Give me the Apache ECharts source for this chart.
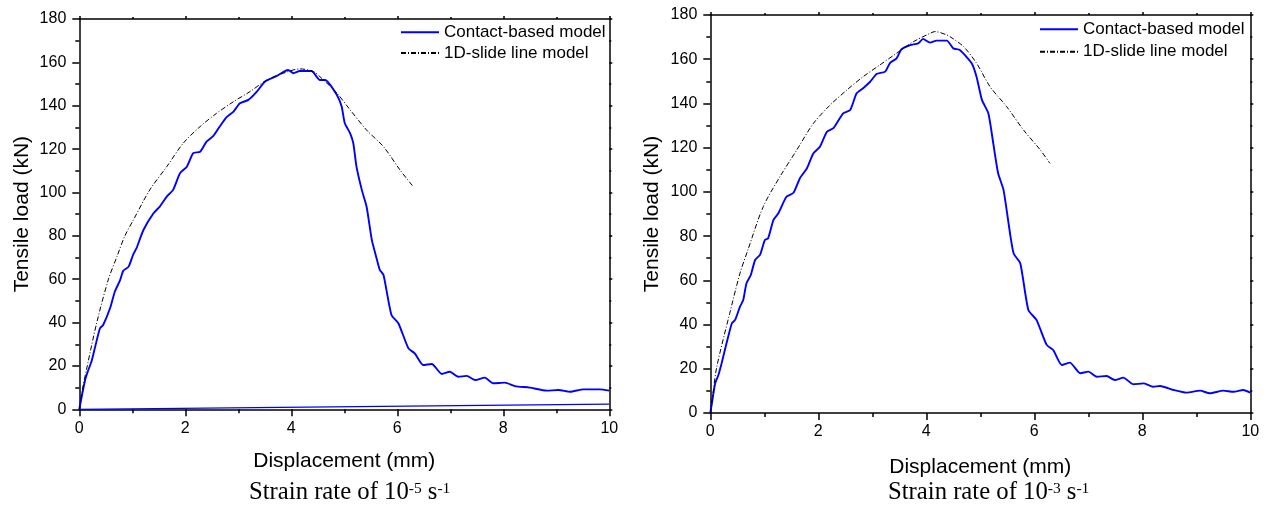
<!DOCTYPE html>
<html>
<head>
<meta charset="utf-8">
<script src="https://cdn.jsdelivr.net/npm/echarts@6/dist/echarts.min.js"></script>
<style>
html,body{margin:0;padding:0;background:#fff;}
#c{width:1273px;height:508px;}
</style>
</head>
<body>
<div id="c"></div>
<script>
// ---- data (displacement mm, tensile load kN) ----
const xTicks = [0, 2, 4, 6, 8, 10];
const yTicks = [0, 20, 40, 60, 80, 100, 120, 140, 160, 180];
const seriesNames = ['Contact-based model', '1D-slide line model'];
const xTitle = 'Displacement (mm)';
const yTitle = 'Tensile load (kN)';
const captionLeft = ['Strain rate of 10', '-5', ' s', '-1'];
const captionRight = ['Strain rate of 10', '-3', ' s', '-1'];

// Strain rate 1e-5
const leftContact = [[0,0],[0.045,5.8],[0.11,13.5],[0.17,18.1],[0.23,22.0],[0.30,28.9],[0.39,37.4],[0.45,38.9],[0.58,46.6],[0.67,54.2],[0.77,59.6],[0.83,63.9],[0.93,65.8],[1.02,71.6],[1.08,74.3],[1.21,82.7],[1.40,90.4],[1.52,93.5],[1.65,98.1],[1.77,101.2],[1.90,108.9],[2.03,111.9],[2.15,118.1],[2.28,118.8],[2.40,123.4],[2.53,126.1],[2.65,130.4],[2.78,134.7],[2.91,137.3],[3.03,141.1],[3.19,142.7],[3.35,146.5],[3.50,151.1],[3.72,153.7],[3.94,156.5],[4.04,155.0],[4.16,156.0],[4.38,156.0],[4.54,151.9],[4.64,151.9],[4.86,145.0],[4.95,139.6],[5.01,131.9],[5.11,127.3],[5.17,122.7],[5.23,111.9],[5.33,101.2],[5.42,93.5],[5.52,78.0],[5.61,69.6],[5.67,64.3],[5.74,61.9],[5.89,43.5],[6.02,39.7],[6.21,28.1],[6.33,25.8],[6.49,20.4],[6.65,20.9],[6.84,16.3],[6.99,17.3],[7.15,15.0],[7.31,15.4],[7.47,13.5],[7.65,14.6],[7.81,12.0],[8.03,12.3],[8.22,10.7],[8.50,10.0],[8.82,8.6],[9.04,8.9],[9.26,8.1],[9.51,9.2],[9.82,9.2],[10.0,8.6]];
const leftSlide = [[0,0],[0.05,8],[0.15,20],[0.33,40],[0.55,60],[0.71,70.4],[0.86,80],[1.02,87.3],[1.33,101.2],[1.65,111.9],[1.96,122.7],[2.28,130.4],[2.59,136.5],[2.91,141.9],[3.22,146.5],[3.54,151.9],[3.85,155.0],[4.16,157.0],[4.42,155.7],[4.54,153.4],[4.86,145.8],[5.11,138.1],[5.42,128.8],[5.74,121.1],[6.05,110.4],[6.30,102.7]];
const leftBaseline = [[0,0],[10,2.4]];

// Strain rate 1e-3
const rightContact = [[0,0],[0.03,4.4],[0.09,13.4],[0.15,17.2],[0.21,22.5],[0.30,31.5],[0.40,40.6],[0.46,42.1],[0.55,48.1],[0.61,51.1],[0.67,58.7],[0.75,62.4],[0.83,69.2],[0.92,71.5],[1.01,78.2],[1.07,79.0],[1.17,87.3],[1.26,90.3],[1.41,97.8],[1.54,99.6],[1.66,106.2],[1.79,110.7],[1.91,117.5],[2.03,120.4],[2.16,127.2],[2.28,128.8],[2.46,135.5],[2.59,137.0],[2.71,144.6],[2.83,146.9],[2.96,149.8],[3.08,153.3],[3.24,154.4],[3.33,158.4],[3.45,160.4],[3.54,164.5],[3.70,166.4],[3.85,167.2],[3.94,169.2],[4.07,167.5],[4.19,168.4],[4.38,168.4],[4.50,164.9],[4.62,164.2],[4.84,158.2],[4.93,152.1],[5.03,141.6],[5.15,135.5],[5.24,122.0],[5.33,108.4],[5.43,100.9],[5.55,81.3],[5.62,72.0],[5.74,67.7],[5.89,46.6],[6.04,42.1],[6.23,30.8],[6.35,28.5],[6.51,21.7],[6.66,22.8],[6.85,18.0],[7.00,18.7],[7.16,16.4],[7.34,16.7],[7.49,14.9],[7.65,16.0],[7.83,13.0],[8.03,13.4],[8.20,11.9],[8.33,12.2],[8.58,10.4],[8.82,9.2],[9.07,10.1],[9.25,8.9],[9.50,10.1],[9.69,9.6],[9.87,10.4],[10.0,9.2]];
const rightSlide = [[0,0],[0.05,9],[0.12,20.9],[0.36,45.1],[0.55,63.2],[0.70,74.0],[0.98,93.3],[1.29,106.9],[1.60,118.9],[1.91,131.0],[2.22,139.3],[2.53,146.1],[2.83,152.1],[3.14,157.4],[3.45,162.7],[3.76,167.9],[4.07,171.7],[4.16,172.5],[4.38,171.0],[4.44,170.2],[4.69,165.7],[4.93,158.2],[5.18,147.6],[5.49,138.5],[5.80,128.0],[6.11,119.0],[6.29,112.9]];

// ---- styles ----
const SANS = '"Liberation Sans", Arial, sans-serif';
const SERIF = '"Liberation Serif", "Times New Roman", serif';
const BLUE = '#0000ff';
const DASHDOT = [5, 2, 1, 2];
const axisLineStyle = { color: '#000', width: 1.5 };

function xAxisPair(gridIndex, nameGap) {
  const base = {
    type: 'value', gridIndex: gridIndex,
    min: xTicks[0], max: xTicks[xTicks.length - 1], interval: xTicks[1] - xTicks[0],
    splitLine: { show: false },
    axisLine: { show: true, onZero: false, lineStyle: axisLineStyle }
  };
  return [
    Object.assign({}, base, {
      position: 'bottom',
      name: xTitle, nameLocation: 'middle', nameGap: nameGap,
      nameTextStyle: { fontFamily: SANS, fontSize: 21, color: '#000' },
      axisTick: { show: true, inside: false, length: 7, lineStyle: { color: '#000', width: 1.5 } },
      minorTick: { show: true, splitNumber: 2, length: 4, lineStyle: { color: '#000', width: 1.5 } },
      axisLabel: { fontFamily: SANS, fontSize: 16, color: '#000', margin: 11 }
    }),
    Object.assign({}, base, {
      position: 'top',
      axisTick: { show: true, inside: false, length: 3, lineStyle: { color: '#000', width: 1.5 } },
      minorTick: { show: true, splitNumber: 2, length: 2, lineStyle: { color: '#000', width: 1.5 } },
      axisLabel: { show: false }
    })
  ];
}
function yAxisPair(gridIndex, nameGap) {
  const base = {
    type: 'value', gridIndex: gridIndex,
    min: yTicks[0], max: yTicks[yTicks.length - 1], interval: yTicks[1] - yTicks[0],
    splitLine: { show: false },
    axisLine: { show: true, onZero: false, lineStyle: axisLineStyle }
  };
  return [
    Object.assign({}, base, {
      position: 'left',
      name: yTitle, nameLocation: 'middle', nameGap: nameGap, nameRotate: 90,
      nameTextStyle: { fontFamily: SANS, fontSize: 21, color: '#000' },
      axisTick: { show: true, inside: false, length: 7, lineStyle: { color: '#000', width: 1.5 } },
      minorTick: { show: true, splitNumber: 2, length: 4, lineStyle: { color: '#000', width: 1.5 } },
      axisLabel: { fontFamily: SANS, fontSize: 16, color: '#000', margin: 13 }
    }),
    Object.assign({}, base, {
      position: 'right',
      axisTick: { show: true, inside: false, length: 3, lineStyle: { color: '#000', width: 1.5 } },
      minorTick: { show: true, splitNumber: 2, length: 2, lineStyle: { color: '#000', width: 1.5 } },
      axisLabel: { show: false }
    })
  ];
}

function contactSeries(data, xi, yi) {
  return { name: seriesNames[0], type: 'line', data: data, xAxisIndex: xi, yAxisIndex: yi,
    showSymbol: false, symbol: 'none', smooth: 0.2, animation: false,
    lineStyle: { color: BLUE, width: 1.9 }, itemStyle: { color: BLUE }, z: 3 };
}
function slideSeries(data, xi, yi) {
  return { name: seriesNames[1], type: 'line', data: data, xAxisIndex: xi, yAxisIndex: yi,
    showSymbol: false, symbol: 'none', smooth: 0.3, animation: false,
    lineStyle: { color: '#000', width: 1, type: DASHDOT }, itemStyle: { color: '#000' }, z: 4 };
}

function legendAt(name, left, top) {
  return { data: [name], left: left, top: top, orient: 'horizontal', padding: 0,
    itemWidth: 38, itemHeight: 17, itemGap: 5, selectedMode: false,
    itemStyle: { opacity: 0, borderWidth: 0 },
    textStyle: { fontFamily: SANS, fontSize: 17, color: '#000', lineHeight: 17 } };
}

function caption(parts, left, top) {
  return {
    left: left, top: top, padding: 0,
    text: '{m|' + parts[0] + '}{s|' + parts[1] + '}{m|' + parts[2] + '}{s|' + parts[3] + '}',
    textStyle: {
      fontWeight: 'normal',
      rich: {
        m: { fontFamily: SERIF, fontSize: 24.7, fontWeight: 'normal', lineHeight: 25, color: '#000', verticalAlign: 'bottom' },
        s: { fontFamily: SERIF, fontSize: 15.5, fontWeight: 'normal', lineHeight: 15, color: '#000', verticalAlign: 'top' }
      }
    }
  };
}

const option = {
  backgroundColor: '#fff',
  animation: false,
  title: [caption(captionLeft, 249, 480.5), caption(captionRight, 888, 480.5)],
  legend: [
    legendAt(seriesNames[0], 400, 23.8),
    legendAt(seriesNames[1], 400, 44.5),
    legendAt(seriesNames[0], 1039, 20.8),
    legendAt(seriesNames[1], 1039, 43.2)
  ],
  grid: [
    { left: 79.3, top: 19, width: 530, height: 390.3 },
    { left: 710.3, top: 15, width: 540, height: 398 }
  ],
  xAxis: [].concat(xAxisPair(0, 41.5), xAxisPair(1, 43.5)),
  yAxis: [].concat(yAxisPair(0, 47), yAxisPair(1, 48)),
  series: [
    { name: 'baseline', type: 'line', data: leftBaseline, xAxisIndex: 0, yAxisIndex: 0,
      showSymbol: false, symbol: 'none', animation: false,
      lineStyle: { color: BLUE, width: 1.3 }, z: 2 },
    contactSeries(leftContact, 0, 0),
    slideSeries(leftSlide, 0, 0),
    contactSeries(rightContact, 2, 2),
    slideSeries(rightSlide, 2, 2)
  ]
};

const chart = echarts.init(document.getElementById('c'), null, { renderer: 'canvas' });
chart.setOption(option);
</script>
</body>
</html>
